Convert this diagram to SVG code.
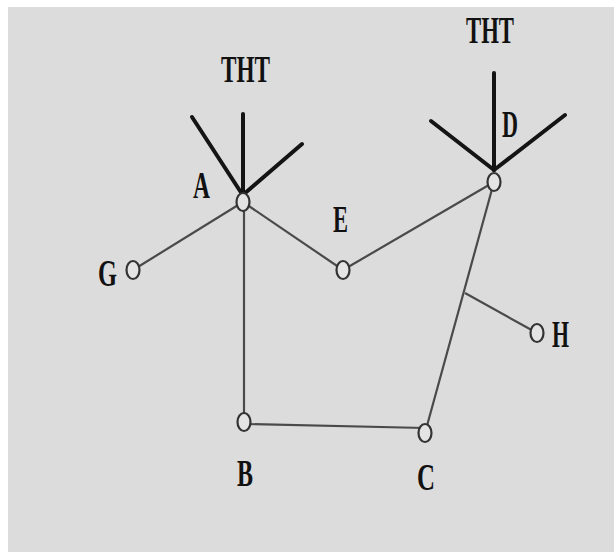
<svg xmlns="http://www.w3.org/2000/svg" width="614" height="552" viewBox="0 0 614 552">
<style>
.lbl{font-family:"Liberation Serif","Times New Roman",serif;font-weight:bold;font-size:37px;fill:#111}
.thin{stroke:#4a4a4a;stroke-width:2.2;fill:none}
.thick{stroke:#141414;stroke-width:4;fill:none;stroke-linecap:round}
.node{fill:#e4e4e4;stroke:#333;stroke-width:2.2}
</style>
<rect width="614" height="552" fill="#ffffff"/>
<rect x="8" y="7" width="606" height="545" fill="#dcdcdc"/>
<g id="connectors">
<line class="thin" x1="243" y1="202" x2="133" y2="270"/>
<line class="thin" x1="243" y1="202" x2="343" y2="270"/>
<line class="thin" x1="244" y1="202" x2="244" y2="422"/>
<line class="thin" x1="343" y1="270" x2="494" y2="182"/>
<line class="thin" x1="494" y1="182" x2="425" y2="433"/>
<line class="thin" x1="244" y1="424" x2="425" y2="428"/>
<line class="thin" x1="465" y1="293" x2="537" y2="333"/>
<line class="thick" x1="243" y1="114" x2="243" y2="194"/>
<line class="thick" x1="192" y1="117" x2="242" y2="194"/>
<line class="thick" x1="302" y1="144" x2="244" y2="194"/>
<line class="thick" x1="494" y1="73" x2="494" y2="170"/>
<line class="thick" x1="431" y1="121" x2="494" y2="170"/>
<line class="thick" x1="565" y1="115" x2="494" y2="170"/>
</g>
<g id="node-A"><ellipse class="node" cx="243" cy="202" rx="6.5" ry="9"/><text class="lbl" x="193" y="198" textLength="17" lengthAdjust="spacingAndGlyphs">A</text></g>
<g id="node-G"><ellipse class="node" cx="133" cy="270" rx="6.5" ry="9"/><text class="lbl" x="98" y="286" textLength="19" lengthAdjust="spacingAndGlyphs">G</text></g>
<g id="node-E"><ellipse class="node" cx="343" cy="270" rx="6.5" ry="9"/><text class="lbl" x="333" y="232" textLength="15" lengthAdjust="spacingAndGlyphs">E</text></g>
<g id="node-D"><ellipse class="node" cx="494" cy="182" rx="6.5" ry="9"/><text class="lbl" x="502" y="137" textLength="16" lengthAdjust="spacingAndGlyphs">D</text></g>
<g id="node-H"><ellipse class="node" cx="537" cy="333" rx="6.5" ry="9"/><text class="lbl" x="552" y="347" textLength="17" lengthAdjust="spacingAndGlyphs">H</text></g>
<g id="node-B"><ellipse class="node" cx="244" cy="422" rx="6.5" ry="9"/><text class="lbl" x="237" y="486" textLength="16" lengthAdjust="spacingAndGlyphs">B</text></g>
<g id="node-C"><ellipse class="node" cx="425" cy="433" rx="6.5" ry="9"/><text class="lbl" x="417" y="490" textLength="18" lengthAdjust="spacingAndGlyphs">C</text></g>
<g id="label-THT-A"><text class="lbl" x="221" y="82" textLength="49" lengthAdjust="spacingAndGlyphs">THT</text></g>
<g id="label-THT-D"><text class="lbl" x="466" y="43" textLength="48" lengthAdjust="spacingAndGlyphs">THT</text></g>
</svg>
